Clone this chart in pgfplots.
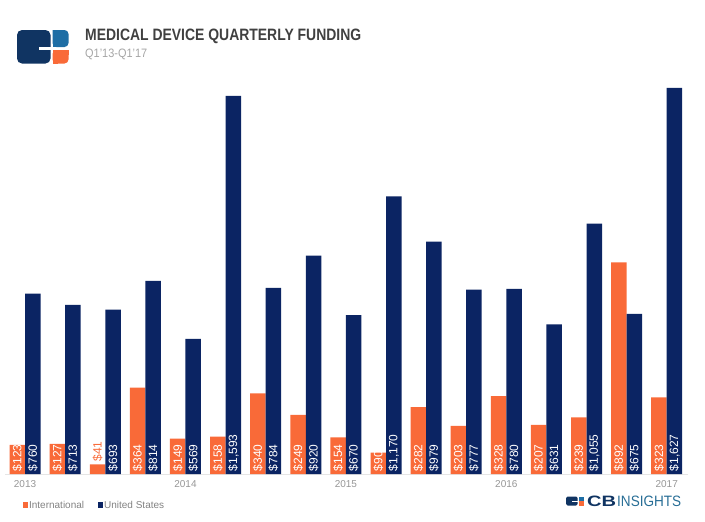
\documentclass[border=0pt]{standalone}
\usepackage{fontspec}
\setmainfont{Liberation Sans}
\usepackage{pgfplots}
\pgfplotsset{compat=1.18}
\usepackage{pgfplotstable}
\definecolor{orangeC}{RGB}{249,106,56}
\definecolor{navyC}{RGB}{11,36,99}
\definecolor{logoNavy}{RGB}{16,52,98}
\definecolor{logoBlue}{RGB}{30,110,165}
\definecolor{titleGray}{RGB}{64,64,64}
\definecolor{subGray}{RGB}{165,165,165}
\definecolor{yearGray}{RGB}{150,150,150}
\definecolor{legGray}{RGB}{130,130,130}
\definecolor{insBlue}{RGB}{40,110,150}

\pgfplotstableread{
q intl us
0 123 760
1 127 713
2 41 693
3 364 814
4 149 569
5 158 1593
6 340 784
7 249 920
8 154 670
9 90 1170
10 282 979
11 203 777
12 328 780
13 207 631
14 239 1055
15 892 675
16 323 1627
}\data

\begin{document}
\begin{tikzpicture}[x=1pt,y=1pt]
\useasboundingbox (0,0) rectangle (705,-522);
% top-left logo
\fill[logoNavy, rounded corners=5pt] (17,-30) rectangle (50.5,-63.5);
\fill[white] (39,-47) rectangle (53,-50);
\fill[logoBlue, rounded corners=4pt] (52.5,-30) -- (68.5,-30) -- (68.5,-47) -- (52.5,-47) [sharp corners] -- cycle;
\fill[logoBlue] (52.5,-30) rectangle (58,-47);
\fill[orangeC, rounded corners=4pt] (52.5,-50) -- (68.5,-50) -- (68.5,-63.5) -- (52.5,-63.5) -- cycle;
\fill[orangeC] (52.5,-50) rectangle (58,-63.5);
\fill[orangeC] (52.5,-50) rectangle (68.5,-55);
% title
\node[anchor=base west, inner sep=0, text=titleGray] at (85,-41) {\resizebox{276pt}{11.5pt}{\bfseries MEDICAL DEVICE QUARTERLY FUNDING}};
\node[anchor=base west, inner sep=0, text=subGray] at (85,-57.3) {\resizebox{62pt}{8.5pt}{Q1’13-Q1’17}};
% bottom-right logo
\fill[logoNavy, rounded corners=1.5pt] (566,-496.5) rectangle (577.5,-505.5);
\fill[white] (572,-500.6) rectangle (578,-501.4);
\fill[logoBlue] (578.5,-496.5) rectangle (584,-500.6);
\fill[orangeC] (578.5,-501.4) rectangle (584,-505.5);
\node[anchor=base west, inner sep=0, text=logoNavy] at (587,-506) {\resizebox{29pt}{10.5pt}{\bfseries CB}};
\node[anchor=base west, inner sep=0, text=insBlue] at (617,-506) {\resizebox{64pt}{10.5pt}{INSIGHTS}};

\begin{axis}[
  at={(5pt,-474pt)}, anchor=south west, scale only axis,
  width=683pt, height=403.4pt,
  xmin=-0.5, xmax=16.53, ymin=0, ymax=1700,
  hide y axis, axis x line*=bottom,
  x axis line style={draw=black!10, -},
  xtick={0,4,8,12,16}, xticklabels={2013,2014,2015,2016,2017},
  major tick length=0pt,
  xticklabel style={font=\fontsize{10}{12}\selectfont, text=yearGray, yshift=-3pt},
  clip=false,
  /pgf/number format/assume math mode=true,
  /pgf/number format/fixed, /pgf/number format/precision=0,
  /pgf/number format/1000 sep={,},
  legend style={at={(axis description cs:0.0255,-0.078)}, anchor=west, draw=none, fill=none,
    legend columns=2, font=\fontsize{10}{12}\selectfont, text=legGray,
    /tikz/every even column/.append style={column sep=12pt}, inner sep=0pt,
    nodes={inner sep=1.5pt}},
]
\addplot[ybar, bar width=15.5pt, bar shift=-7.75pt, fill=orangeC, draw=none,
  legend image code/.code={\fill[orangeC] (0pt,-3pt) rectangle (5pt,3.5pt);}]
  table[x=q, y=intl] {\data};
\addlegendentry{International}
\addplot[ybar, bar width=15.5pt, bar shift=7.75pt, fill=navyC, draw=none,
  legend image code/.code={\fill[navyC] (0pt,-3pt) rectangle (5pt,3.5pt);}]
  table[x=q, y=us] {\data};
\addlegendentry{United States}
% labels
\addplot[ybar, bar width=15.5pt, bar shift=-7.75pt, draw=none, fill=none, forget plot,
  point meta=explicit, nodes near coords={\rotatebox{90}{\$\pgfmathprintnumber{\pgfplotspointmeta}}},
  nodes near coords align={south},
  every node near coord/.append style={text=white, font=\fontsize{12}{14}\selectfont, inner sep=2.5pt, xshift=-7.75pt},
  skip coords between index={2}{3}]
  table[x=q, y expr=0, meta=intl] {\data};
\addplot[ybar, bar width=15.5pt, bar shift=-7.75pt, draw=none, fill=none, forget plot,
  point meta=explicit, nodes near coords={\rotatebox{90}{\$\pgfmathprintnumber{\pgfplotspointmeta}}},
  nodes near coords align={south},
  every node near coord/.append style={text=orangeC, font=\fontsize{12}{14}\selectfont, inner sep=2.5pt, xshift=-7.75pt},
  skip coords between index={0}{2}, skip coords between index={3}{17}]
  table[x=q, y=intl, meta=intl] {\data};
\addplot[ybar, bar width=15.5pt, bar shift=7.75pt, draw=none, fill=none, forget plot,
  point meta=explicit, nodes near coords={\rotatebox{90}{\$\pgfmathprintnumber{\pgfplotspointmeta}}},
  nodes near coords align={south},
  every node near coord/.append style={text=white, font=\fontsize{12}{14}\selectfont, inner sep=2.5pt, xshift=7.75pt}]
  table[x=q, y expr=0, meta=us] {\data};
\end{axis}
\end{tikzpicture}
\end{document}
